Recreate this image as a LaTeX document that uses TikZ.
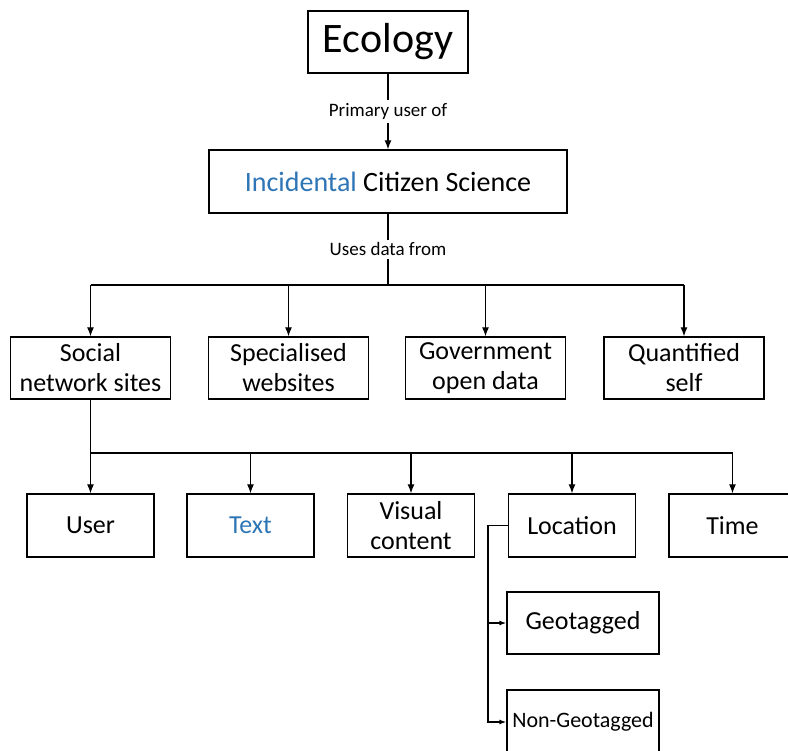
\documentclass[tikz,border=0pt]{standalone}
\usepackage{fontspec}
\setmainfont{Carlito}
\usetikzlibrary{positioning,arrows.meta}
\definecolor{incblue}{RGB}{46,117,182}
\tikzset{
  box/.style={draw, line width=1.3pt, align=center, inner sep=0pt, font=\fontsize{26}{30}\selectfont},
  srcbox/.style={box, minimum width=160pt, minimum height=62pt},
  facetbox/.style={box, minimum width=127pt, minimum height=63pt},
  geobox/.style={box, minimum width=152pt, minimum height=62pt},
  lbl/.style={fill=white, inner sep=3pt, font=\fontsize{19}{21}\selectfont},
  arr/.style={-{Latex[length=9pt,width=7pt]}, line width=1.3pt},
  geoarr/.style={-{Latex[length=7pt,width=5pt]}, line width=1.3pt},
}

\begin{document}
\begin{tikzpicture}[x=1pt,y=-1pt,line width=1.3pt]
  \useasboundingbox (0,0) rectangle (788,751);
  \clip (0,0) rectangle (788,751);
  \node[box, minimum width=160pt, minimum height=62pt, font=\fontsize{42}{46}\selectfont] (ecology) at (388,42) {Ecology};
  \node[box, minimum width=358pt, minimum height=63pt, font=\fontsize{28}{32}\selectfont] (ics) at (388,181.5) {\textcolor{incblue}{Incidental} Citizen Science};
  \node[srcbox] (social) at (90.5,368) {Social\\network sites};
  \node[srcbox] (special) at (288.5,368) {Specialised\\websites};
  \node[srcbox] (gov) at (485.5,368) {Government\\open data};
  \node[srcbox] (qself) at (684,368) {Quantified\\self};
  \node[facetbox] (user) at (90.5,525.5) {User};
  \node[facetbox] (text) at (250.5,525.5) {\textcolor{incblue}{Text}};
  \node[facetbox] (visual) at (411,525.5) {Visual\\content};
  \node[facetbox] (location) at (572,525.5) {Location};
  \node[facetbox] (timebox) at (732.5,525.5) {Time};
  \node[geobox] (geo) at (583,623) {Geotagged};
  \node[geobox, minimum height=64pt, font=\fontsize{22}{26}\selectfont] (nongeo) at (583,722) {Non-Geotagged};
  \coordinate (topbus) at (388,285);
  \coordinate (socbus) at (90.5,453);
  \coordinate (locbend) at (488,525.5);
  \draw[arr] (ecology) -- (ics) node[midway,lbl] {Primary user of};
  \draw (ics) -- (topbus) node[midway,lbl] {Uses data from};
  \draw (social.north |- topbus) -- (qself.north |- topbus);
  \foreach \n in {social,special,gov,qself}
    \draw[arr] (\n.north |- topbus) -- (\n);
  \draw (social) -- (socbus) -- (timebox.north |- socbus);
  \foreach \n in {user,text,visual,location,timebox}
    \draw[arr] (\n.north |- socbus) -- (\n);
  \draw[geoarr] (location.west) -- (locbend) |- (nongeo.west);
  \draw[geoarr] (locbend |- geo.west) -- (geo.west);
\end{tikzpicture}
\end{document}
